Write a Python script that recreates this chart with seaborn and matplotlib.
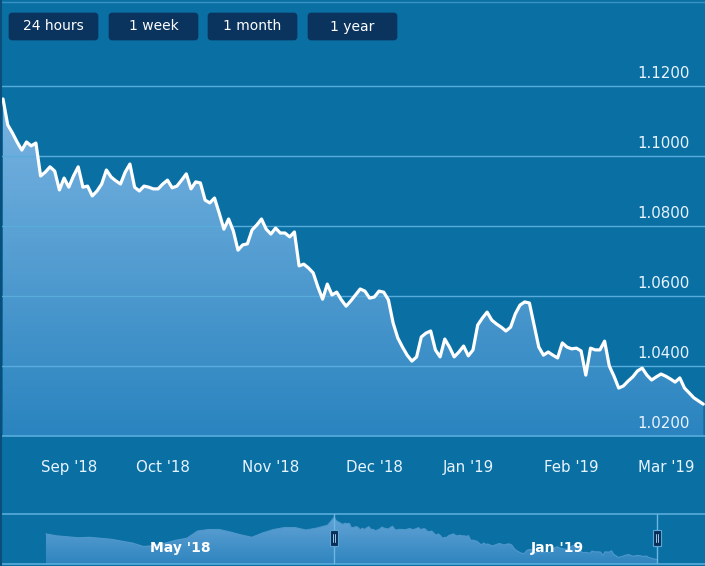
import numpy as np
import pandas as pd
import matplotlib
matplotlib.use("Agg")
import matplotlib.pyplot as plt
import matplotlib.transforms as mtransforms
from matplotlib.colors import LinearSegmentedColormap
from matplotlib.patches import FancyBboxPatch, Rectangle
import seaborn as sns

# ---------------- data ----------------
rate = [
    1.1163, 1.1089, 1.1066, 1.1040, 1.1017, 1.1040, 1.1029, 1.1037, 1.0943, 1.0954,
    1.0969, 1.0957, 1.0903, 1.0937, 1.0911, 1.0943, 1.0969, 1.0911, 1.0914, 1.0886,
    1.0900, 1.0920, 1.0960, 1.0940, 1.0929, 1.0920, 1.0954, 1.0977, 1.0911, 1.0900,
    1.0914, 1.0911, 1.0906, 1.0906, 1.0920, 1.0931, 1.0909, 1.0914, 1.0931, 1.0949,
    1.0906, 1.0926, 1.0923, 1.0874, 1.0866, 1.0880, 1.0837, 1.0791, 1.0820, 1.0786,
    1.0731, 1.0746, 1.0749, 1.0789, 1.0803, 1.0820, 1.0791, 1.0777, 1.0794, 1.0780,
    1.0780, 1.0769, 1.0783, 1.0686, 1.0691, 1.0680, 1.0666, 1.0626, 1.0591, 1.0634,
    1.0603, 1.0611, 1.0589, 1.0571, 1.0586, 1.0603, 1.0620, 1.0614, 1.0594, 1.0597,
    1.0614, 1.0611, 1.0589, 1.0523, 1.0480, 1.0454, 1.0431, 1.0414, 1.0426, 1.0483,
    1.0494, 1.0500, 1.0446, 1.0426, 1.0477, 1.0454, 1.0426, 1.0440, 1.0457, 1.0429,
    1.0446, 1.0517, 1.0537, 1.0554, 1.0531, 1.0520, 1.0511, 1.0500, 1.0511, 1.0549,
    1.0574, 1.0583, 1.0580, 1.0517, 1.0454, 1.0431, 1.0440, 1.0431, 1.0423, 1.0466,
    1.0454, 1.0449, 1.0451, 1.0443, 1.0374, 1.0451, 1.0446, 1.0446, 1.0471, 1.0400,
    1.0371, 1.0337, 1.0343, 1.0357, 1.0369, 1.0386, 1.0394, 1.0374, 1.0360, 1.0369,
    1.0377, 1.0371, 1.0363, 1.0354, 1.0366, 1.0337, 1.0323, 1.0309, 1.0300, 1.0291,
]
start_date = "2018-08-14"
end_date = "2019-03-13"
holidays = ["2018-12-25", "2019-01-01"]

# earlier history shown only in the navigator (weekly readings)
history_start = "2018-02-08"
history_rate = [1.082, 1.078, 1.076, 1.074, 1.075, 1.073, 1.071, 1.067, 1.063,
                1.056, 1.058, 1.063, 1.069, 1.073, 1.088, 1.091, 1.091, 1.086,
                1.080, 1.075, 1.084, 1.091, 1.095, 1.095, 1.090, 1.094, 1.100]

month_keys = ["2018-09", "2018-10", "2018-11", "2018-12", "2019-01", "2019-02", "2019-03"]
month_labels = ["Sep '18", "Oct '18", "Nov '18", "Dec '18", "Jan '19", "Feb '19", "Mar '19"]
nav_month_keys = ["2018-05", "2019-01"]
nav_month_labels = ["May '18", "Jan '19"]

y_ticks = [1.02, 1.04, 1.06, 1.08, 1.10, 1.12]
buttons = ["24 hours", "1 week", "1 month", "1 year"]

# ---------------- derived ----------------
hol = pd.to_datetime(holidays)
dates = pd.bdate_range(start_date, end_date)
dates = dates[~dates.isin(hol)]
pos = np.arange(len(dates))
df = pd.DataFrame({"pos": pos, "rate": rate, "date": dates})

nav_dates = pd.bdate_range(history_start, end_date)
nav_dates = nav_dates[~nav_dates.isin(hol)]
main_offset = int(np.where(nav_dates == dates[0])[0][0])
hist_pos = np.arange(0, main_offset, 5)[:len(history_rate)]
nav_df = pd.DataFrame({
    "pos": np.concatenate([hist_pos, main_offset + pos]),
    "rate": list(history_rate) + list(rate),
})

# ---------------- style ----------------
BG = "#0a70a4"
GRID = "#58acdc"
TXT = "#e8f4ff"
sns.set_theme(style="white")
plt.rcParams["font.family"] = ["DejaVu Sans"]

W, H = 705, 566
fig = plt.figure(figsize=(W / 100, H / 100), dpi=100, facecolor=BG)

def fx(px):
    return px / W

def fy(py):
    return 1 - py / H

# main plot area: y pixel 50 .. 436
top_px, bot_px = 50, 436
ax = fig.add_axes([0, fy(bot_px), 1, (bot_px - top_px) / H])
ax.set_facecolor(BG)
ymin = 1.02
ymax = ymin + (bot_px - top_px) / 3500.0
step_px = 4.7
xmin = -3 / step_px
xmax = (len(pos) - 1) + (W - 3 - step_px * (len(pos) - 1)) / step_px

# gradient area
poly = ax.fill_between(df["pos"], df["rate"], ymin, color="none", lw=0)
cmap = LinearSegmentedColormap.from_list("g", ["#2a84bf", "#7ab4e2"])
grad = np.linspace(0, 1, 256).reshape(-1, 1)
im = ax.imshow(grad, extent=[xmin, xmax, ymin, max(rate)], origin="lower",
               aspect="auto", cmap=cmap, zorder=1)
im.set_clip_path(poly.get_paths()[0], ax.transData)

for t in y_ticks[1:]:
    ax.axhline(t, color=GRID, lw=1, zorder=2)

sns.lineplot(data=df, x="pos", y="rate", ax=ax, color="white", lw=2.3, zorder=4)
ax.set_xlim(xmin, xmax)
ax.set_ylim(ymin, ymax)
ax.set_xlabel("")
ax.set_ylabel("")
for s in ["top", "left", "right"]:
    ax.spines[s].set_visible(False)
ax.spines["bottom"].set_color(GRID)
ax.spines["bottom"].set_linewidth(1.2)
ax.set_yticks([])

ym = dates.strftime("%Y-%m")
tick_pos = [int(np.where(ym == k)[0][0]) for k in month_keys]
ax.set_xticks(tick_pos)
ax.set_xticklabels(month_labels, color=TXT, fontsize=10.8)
ax.tick_params(axis="x", length=8, width=1, color=GRID, pad=9.5, direction="out")

# y labels inside plot, right-aligned
off = mtransforms.ScaledTranslation(0, 5 / 100, fig.dpi_scale_trans)
btf = mtransforms.blended_transform_factory(ax.transAxes, ax.transData)
for t in y_ticks:
    ax.text(fx(690), t, f"{t:.4f}", transform=btf + off, ha="right", va="bottom",
            color=TXT, fontsize=10.8, zorder=5)

# ---------------- navigator ----------------
nav_top, nav_bot = 514, 564
axn = fig.add_axes([0, fy(nav_bot), 1, (nav_bot - nav_top) / H])
axn.set_facecolor(BG)
nstep = 2.168
nxmin = -46 / nstep
nxmax = nav_df["pos"].max() + (W - 657) / nstep
nymin, nymax = 1.020, 1.123
npoly = axn.fill_between(nav_df["pos"], nav_df["rate"], nymin, color="none", lw=0)
ncmap = LinearSegmentedColormap.from_list("n", ["#2f85bf", "#62a3d6"])
nim = axn.imshow(grad, extent=[nxmin, nxmax, nymin, max(nav_df["rate"])], origin="lower",
                 aspect="auto", cmap=ncmap, zorder=1)
nim.set_clip_path(npoly.get_paths()[0], axn.transData)
sns.lineplot(data=nav_df, x="pos", y="rate", ax=axn, color="#4f98cc", lw=0.8, zorder=2)
axn.set_xlim(nxmin, nxmax)
axn.set_ylim(nymin, nymax)
axn.set_xlabel("")
axn.set_ylabel("")
axn.set_xticks([])
axn.set_yticks([])
for s in ["left", "right"]:
    axn.spines[s].set_visible(False)
for s in ["top", "bottom"]:
    axn.spines[s].set_color(GRID)
    axn.spines[s].set_linewidth(1.2)

# navigator labels
nym = nav_dates.strftime("%Y-%m")
noff = mtransforms.ScaledTranslation(9 / 100, 0, fig.dpi_scale_trans)
ntf = mtransforms.blended_transform_factory(axn.transData, axn.transAxes)
for k, lab in zip(nav_month_keys, nav_month_labels):
    p = int(np.where(nym == k)[0][0])
    axn.text(p, 0.32, lab, transform=ntf + noff, ha="center", va="center",
             color="white", fontsize=10, fontweight="bold", zorder=5)

# selection edges and handles
sel = [main_offset, main_offset + len(pos) - 1]
for p in sel:
    axn.axvline(p, color="#6cb6e2", lw=1, zorder=3)
    hx = mtransforms.blended_transform_factory(axn.transData, axn.transAxes)
    r = Rectangle((0, 0), 1, 1, transform=hx, visible=False)
    axn.add_patch(r)
    # handle drawn in pixel space below

ov = fig.add_axes([0, 0, 1, 1], facecolor="none", zorder=10)
ov.set_xlim(0, W)
ov.set_ylim(H, 0)
ov.axis("off")
for p in sel:
    xd = axn.transData.transform((p, nymin))[0]
    ov.add_patch(Rectangle((xd - 4, 530), 8, 16, facecolor="#0b2f58",
                           edgecolor="#5aa8d8", lw=0.8))
    ov.plot([xd - 1.3, xd - 1.3], [534, 542], color="#9cc8e8", lw=0.7)
    ov.plot([xd + 1.3, xd + 1.3], [534, 542], color="#9cc8e8", lw=0.7)

# range buttons
bx = [9, 109, 208, 308]
for x0, lab in zip(bx, buttons):
    ov.add_patch(FancyBboxPatch((x0, 13), 89, 27,
                                boxstyle="round,pad=0,rounding_size=3",
                                facecolor="#0a335e", edgecolor="#0a335e", lw=0.5))
    ov.text(x0 + 44.5, 26.5, lab, ha="center", va="center", color="white",
            fontsize=10)

# frame lines
ov.plot([0, W], [2, 2], color="#3a92c4", lw=1)
ov.plot([1, 1], [0, H], color="#0a4f7a", lw=1.5)

fig.savefig("out.png", dpi=100, facecolor=BG)
